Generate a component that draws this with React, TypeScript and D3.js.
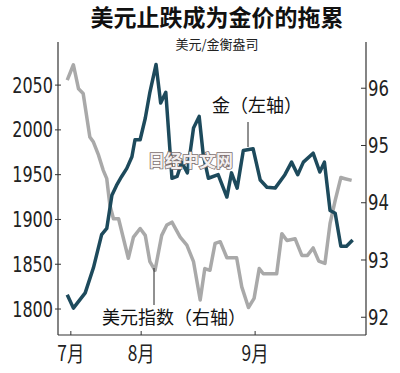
import React, { useEffect, useRef } from 'react';
import * as d3 from 'd3';

// gold price (left axis), x = trading-day position along the period
const goldDays = [1.8, 3.0, 5.3, 6.9, 8.5, 9.5, 10.5, 11.4, 12.4, 13.4, 14.4, 15.0, 16.0, 17.0, 17.9, 19.1, 20.0, 21.0, 22.2, 23.2, 24.1, 25.2, 26.4, 27.5, 28.3, 29.3, 31.2, 32.9, 33.8, 34.9, 36.1, 38.0, 39.4, 40.7, 42.3, 44.2, 45.5, 46.7, 47.8, 49.7, 51.0, 51.9, 53.0, 54.0, 55.1, 56.2, 57.4];
const goldPrice = [1816, 1801, 1818, 1846, 1883, 1890, 1927, 1938, 1948, 1957, 1970, 1989, 1989, 2013, 2042, 2073, 2030, 2042, 1946, 1948, 1964, 1952, 2002, 2015, 1972, 1946, 1950, 1925, 1952, 1935, 1977, 1979, 1944, 1936, 1935, 1950, 1964, 1950, 1964, 1974, 1953, 1964, 1910, 1907, 1870, 1870, 1877];

// dollar index (right axis)
const dollarDays = [1.8, 3.0, 4.0, 4.9, 6.2, 6.9, 7.9, 8.8, 9.5, 10.1, 10.8, 11.8, 13.7, 14.7, 16.0, 17.0, 17.9, 18.9, 20.2, 21.2, 22.2, 23.8, 25.1, 26.4, 27.7, 28.6, 29.6, 30.6, 31.6, 32.9, 34.8, 35.8, 37.1, 38.2, 39.2, 40.0, 42.6, 43.6, 44.6, 46.2, 47.5, 48.6, 49.7, 50.8, 52.0, 53.0, 54.0, 55.1, 55.9, 57.2];
const dollarIndex = [96.14, 96.41, 95.99, 95.91, 95.15, 95.06, 94.83, 94.57, 94.42, 93.96, 93.72, 93.72, 93.03, 93.40, 93.55, 93.43, 92.97, 92.82, 93.43, 93.61, 93.66, 93.40, 93.26, 92.97, 92.30, 92.85, 92.82, 93.29, 93.32, 93.04, 93.04, 92.53, 92.17, 92.33, 92.85, 92.76, 92.76, 93.46, 93.34, 93.37, 93.08, 93.08, 93.21, 92.98, 92.94, 93.64, 94.04, 94.44, 94.42, 94.39];

const monthDays = [2.5, 16.2, 38.4];
const monthLabels = ['7月', '8月', '9月'];
const goldTicks = [1800, 1850, 1900, 1950, 2000, 2050];
const dollarTicks = [92, 93, 94, 95, 96];

const title = '美元止跌成为金价的拖累';
const unitLabel = '美元/金衡盎司';
const goldLabel = '金（左轴）';
const dollarLabel = '美元指数（右轴）';
const watermark = '日经中文网';

const CJK = '"Noto Sans CJK SC", "Noto Sans", sans-serif';
const NUM = '"Liberation Sans Narrow", "DejaVu Sans Condensed", "Roboto", sans-serif';

const App = () => {
  const svgRef = useRef(null);

  useEffect(() => {
    const width = 400;
    const height = 373;
    const left = 58, right = 366, top = 42, bottom = 335;

    const svg = d3.select(svgRef.current);
    svg.selectAll('*').remove();
    svg.attr('width', width).attr('height', height);

    svg.append('rect').attr('width', width).attr('height', height).attr('fill', '#fff');

    const x = d3.scaleLinear().domain([0, 60]).range([left, right]);
    const yGold = d3.scaleLinear().domain([1771, 2097]).range([bottom, top + 1]);
    const yDollar = d3.scaleLinear().domain([91.69, 96.79]).range([bottom, top + 1]);

    // titles
    svg.append('text')
      .attr('x', 217).attr('y', 26)
      .attr('text-anchor', 'middle')
      .attr('font-family', CJK).attr('font-weight', 'bold')
      .attr('font-size', 23).attr('fill', '#111')
      .text(title);

    svg.append('text')
      .attr('x', 217).attr('y', 49)
      .attr('text-anchor', 'middle')
      .attr('font-family', CJK)
      .attr('font-size', 13).attr('fill', '#222')
      .text(unitLabel);

    // axes
    const axisColor = '#333';
    svg.append('line').attr('x1', left).attr('x2', left).attr('y1', top).attr('y2', bottom)
      .attr('stroke', axisColor).attr('stroke-width', 1.2);
    svg.append('line').attr('x1', right).attr('x2', right).attr('y1', top).attr('y2', bottom)
      .attr('stroke', axisColor).attr('stroke-width', 1.2);
    svg.append('line').attr('x1', left).attr('x2', right).attr('y1', bottom).attr('y2', bottom)
      .attr('stroke', axisColor).attr('stroke-width', 1.2);

    const gl = svg.append('g');
    goldTicks.forEach(t => {
      gl.append('line').attr('x1', left - 3).attr('x2', left + 3)
        .attr('y1', yGold(t)).attr('y2', yGold(t)).attr('stroke', axisColor);
      gl.append('text')
        .attr('x', left - 5).attr('y', yGold(t))
        .attr('dy', '0.36em')
        .attr('text-anchor', 'end')
        .attr('font-family', NUM).attr('font-size', 21).attr('fill', '#222')
        .attr('textLength', String(t).length * 10.2)
        .attr('lengthAdjust', 'spacingAndGlyphs')
        .text(t);
    });

    const gr = svg.append('g');
    dollarTicks.forEach(t => {
      gr.append('line').attr('x1', right - 5).attr('x2', right)
        .attr('y1', yDollar(t)).attr('y2', yDollar(t)).attr('stroke', axisColor);
      gr.append('text')
        .attr('x', right + 2).attr('y', yDollar(t))
        .attr('dy', '0.36em')
        .attr('font-family', NUM).attr('font-size', 21).attr('fill', '#222')
        .attr('textLength', String(t).length * 10.5)
        .attr('lengthAdjust', 'spacingAndGlyphs')
        .text(t);
    });

    const gb = svg.append('g');
    monthDays.forEach((d, i) => {
      gb.append('line').attr('x1', x(d)).attr('x2', x(d))
        .attr('y1', bottom - 4).attr('y2', bottom).attr('stroke', axisColor);
      gb.append('text')
        .attr('x', x(d)).attr('y', 361)
        .attr('text-anchor', 'middle')
        .attr('font-family', CJK).attr('font-size', 21).attr('fill', '#222')
        .attr('textLength', 27)
        .attr('lengthAdjust', 'spacingAndGlyphs')
        .text(monthLabels[i]);
    });

    // lines
    const dollarLine = d3.line()
      .x((d, i) => x(dollarDays[i]))
      .y(d => yDollar(d));
    svg.append('path')
      .datum(dollarIndex)
      .attr('fill', 'none')
      .attr('stroke', '#a9a9a9')
      .attr('stroke-width', 3.5)
      .attr('stroke-linejoin', 'round')
      .attr('d', dollarLine);

    const goldLine = d3.line()
      .x((d, i) => x(goldDays[i]))
      .y(d => yGold(d));
    svg.append('path')
      .datum(goldPrice)
      .attr('fill', 'none')
      .attr('stroke', '#1d4a5c')
      .attr('stroke-width', 3.5)
      .attr('stroke-linejoin', 'round')
      .attr('d', goldLine);

    // annotations
    svg.append('line').attr('x1', 248).attr('x2', 248).attr('y1', 122).attr('y2', 147)
      .attr('stroke', '#222').attr('stroke-width', 1);
    svg.append('text')
      .attr('x', 212).attr('y', 112)
      .attr('font-family', CJK).attr('font-size', 18).attr('fill', '#111')
      .text(goldLabel);

    svg.append('line').attr('x1', 154).attr('x2', 154).attr('y1', 268).attr('y2', 305)
      .attr('stroke', '#222').attr('stroke-width', 1);
    svg.append('text')
      .attr('x', 102).attr('y', 324)
      .attr('font-family', CJK).attr('font-size', 18).attr('fill', '#111')
      .text(dollarLabel);

    // watermark
    svg.append('text')
      .attr('x', 148).attr('y', 167)
      .attr('font-family', CJK).attr('font-weight', 'bold')
      .attr('font-size', 17)
      .attr('fill', '#f4f0f0')
      .attr('stroke', '#7d7070')
      .attr('stroke-width', 1.6)
      .attr('paint-order', 'stroke')
      .text(watermark);
  }, []);

  return (
    <svg ref={svgRef} style={{ position: 'absolute', left: 0, top: 0, display: 'block' }}></svg>
  );
};

export default App;
